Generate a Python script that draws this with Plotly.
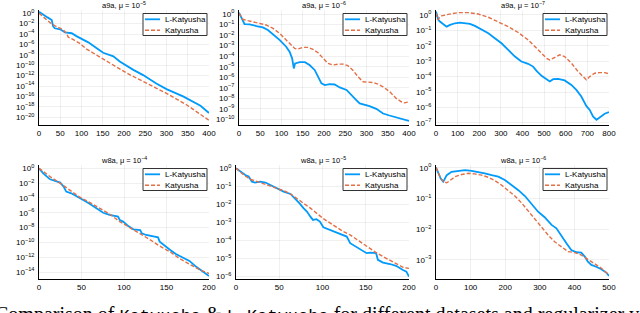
import plotly.graph_objects as go
import numpy as np

# ---------------- data (x = iterations, values as log10 of the plotted quantity) -------------
a9a_5_lk_x = [0, 10, 20, 30, 33, 37, 50, 61, 70, 77, 88, 104, 116, 135, 151, 175, 190, 222, 245, 276, 300, 339, 362, 380, 400]
a9a_5_lk_log = [0.3, -0.3, -0.8, -1.3, -2.5, -2.9, -3.1, -3.7, -3.8, -3.85, -4.4, -5.0, -5.6, -6.7, -7.6, -8.3, -9.3, -10.9, -11.9, -13.5, -14.6, -16.0, -17.0, -17.8, -19.2]
a9a_5_k_x = [0, 10, 26, 37, 57, 63, 69, 81, 96, 112, 135, 167, 206, 261, 300, 347, 400]
a9a_5_k_log = [0.0, -0.7, -1.8, -2.4, -3.2, -3.7, -4.6, -5.1, -5.8, -6.9, -8.0, -9.6, -11.5, -13.8, -15.4, -17.6, -20.6]

a9a_6_lk_x = [0, 5.5, 9, 13, 17, 25, 41, 56, 68, 80, 96, 111, 119, 125, 129, 132, 143, 155, 166, 178, 186, 194, 202, 213, 225, 237, 253, 264, 276, 284, 296, 307, 323, 339, 354, 370, 400]
a9a_6_lk_log = [0.13, -0.25, -0.63, -0.95, -0.95, -0.98, -1.14, -1.27, -1.52, -1.9, -2.47, -3.1, -3.58, -4.2, -5.16, -4.68, -4.56, -4.56, -4.84, -5.3, -5.95, -6.58, -6.74, -6.65, -6.68, -6.96, -7.2, -7.7, -8.16, -8.48, -8.58, -8.73, -8.99, -9.43, -9.62, -9.8, -10.13]
a9a_6_k_x = [0, 5.5, 9, 21, 33, 49, 64, 80, 96, 111, 123, 131, 139, 151, 162, 174, 186, 198, 209, 221, 233, 245, 256, 268, 280, 292, 303, 315, 327, 339, 355, 370, 382, 390, 400]
a9a_6_k_log = [0.06, -0.3, -0.5, -0.63, -0.76, -0.89, -1.04, -1.36, -1.84, -2.47, -2.94, -3.26, -3.32, -3.16, -3.16, -3.35, -3.67, -4.2, -4.68, -4.84, -4.75, -4.75, -4.9, -5.32, -5.95, -6.42, -6.46, -6.49, -6.65, -6.9, -7.37, -8.0, -8.32, -8.42, -8.32]

a9a_7_lk_x = [0, 5, 11, 18, 34, 49, 65, 88, 111, 134, 157, 180, 211, 242, 272, 303, 334, 365, 395, 426, 449, 465, 488, 511, 526, 542, 565, 595, 626, 649, 672, 695, 711, 726, 742, 752, 765, 780, 800]
a9a_7_lk_log = [0.22, -0.11, -0.32, -0.43, -0.58, -0.76, -0.65, -0.54, -0.5, -0.52, -0.58, -0.71, -0.93, -1.19, -1.51, -1.84, -2.27, -2.7, -3.02, -3.17, -3.35, -3.63, -3.95, -4.21, -4.32, -4.17, -4.15, -4.25, -4.54, -4.86, -5.29, -5.9, -6.16, -6.59, -6.8, -6.7, -6.54, -6.41, -6.3]
a9a_7_k_x = [0, 8, 14, 26, 57, 103, 149, 195, 242, 288, 334, 380, 426, 457, 488, 511, 526, 549, 572, 595, 626, 657, 680, 695, 711, 734, 757, 780, 800]
a9a_7_k_log = [0.11, -0.32, -0.22, -0.06, 0.04, 0.15, 0.15, 0.06, -0.15, -0.43, -0.76, -1.14, -1.62, -2.05, -2.48, -2.81, -2.92, -2.74, -2.59, -2.7, -3.13, -3.67, -4.04, -4.21, -4.0, -3.78, -3.74, -3.74, -3.82]

w8a_4_lk_x = [0, 5, 13, 21, 25, 29, 32, 38, 46, 52, 60, 68, 75.5, 83, 89, 93, 95, 99, 105, 111, 119, 121, 126, 134, 140, 142, 148, 154, 161, 169, 177, 185, 193, 200]
w8a_4_lk_log = [0, -0.68, -1.49, -1.8, -1.94, -2.48, -3.15, -3.38, -3.83, -4.28, -4.82, -5.4, -6.0, -6.3, -6.44, -6.53, -6.98, -7.2, -7.8, -8.24, -8.33, -8.78, -9.0, -9.23, -9.32, -9.9, -10.5, -11.0, -11.58, -12.0, -12.5, -13.3, -14.0, -14.55]
w8a_4_k_x = [0, 13, 25, 36, 47, 60, 72, 83, 95, 106.5, 119, 130, 142, 154, 165, 177, 189, 200]
w8a_4_k_log = [0, -1.13, -2.03, -2.93, -3.83, -4.64, -5.4, -6.17, -7.2, -7.97, -8.87, -9.59, -10.5, -11.26, -12.16, -12.9, -13.7, -14.2]

w8a_5_lk_x = [0, 5, 10.7, 14.6, 18.4, 22, 28, 34, 39.5, 47, 55, 63, 68, 74, 78, 82, 86, 89, 93, 97, 101, 107, 112.5, 120, 128, 132, 139, 145, 151, 155, 162, 164, 170, 178, 185, 193, 197, 200]
w8a_5_lk_log = [0, -0.18, -0.37, -0.46, -0.74, -0.79, -0.74, -0.79, -0.92, -1.11, -1.29, -1.42, -1.66, -1.97, -2.21, -2.4, -2.68, -2.86, -2.82, -2.95, -3.27, -3.38, -3.5, -3.63, -3.78, -4.15, -4.37, -4.52, -4.7, -4.67, -4.7, -5.07, -5.22, -5.3, -5.4, -5.63, -5.72, -6.0]
w8a_5_k_x = [0, 9, 16.5, 24, 32, 39.5, 47, 55, 63, 70, 78, 86, 93, 101, 109, 116, 124, 132, 139, 147, 155, 162, 170, 178, 185.5, 193, 200]
w8a_5_k_log = [0, -0.37, -0.61, -0.72, -0.83, -0.98, -1.11, -1.24, -1.42, -1.68, -1.94, -2.21, -2.49, -2.79, -3.04, -3.27, -3.5, -3.69, -3.93, -4.19, -4.43, -4.67, -4.89, -5.11, -5.3, -5.48, -5.54]

w8a_6_lk_x = [0, 7, 13.5, 21, 31, 45, 64, 84, 103, 122, 141, 161, 180, 199, 218, 238, 257, 276, 295, 314, 334, 348, 363, 377, 391, 406, 420, 430, 439, 449, 463, 478, 492, 500]
w8a_6_lk_log = [0.01, -0.18, -0.35, -0.45, -0.24, -0.13, -0.1, -0.08, -0.1, -0.13, -0.18, -0.24, -0.29, -0.4, -0.56, -0.73, -0.92, -1.16, -1.43, -1.61, -1.86, -1.97, -2.24, -2.46, -2.68, -2.75, -2.76, -2.89, -3.06, -3.16, -3.22, -3.3, -3.41, -3.52]
w8a_6_k_x = [0, 11.5, 21, 31, 40, 55, 74, 93, 112, 132, 151, 170, 189, 209, 228, 247, 266, 286, 305, 324, 343, 363, 382, 401, 420, 439, 459, 478, 500]
w8a_6_k_log = [0.01, -0.29, -0.45, -0.49, -0.42, -0.29, -0.22, -0.18, -0.2, -0.24, -0.31, -0.42, -0.56, -0.73, -0.92, -1.14, -1.4, -1.65, -1.92, -2.19, -2.41, -2.59, -2.73, -2.76, -2.84, -2.98, -3.13, -3.27, -3.49]

titles = ["a9a, μ = 10<sup>−5</sup>", "a9a, μ = 10<sup>−6</sup>", "a9a, μ = 10<sup>−7</sup>",
          "w8a, μ = 10<sup>−4</sup>", "w8a, μ = 10<sup>−5</sup>", "w8a, μ = 10<sup>−6</sup>"]
x_ticks = [[0, 50, 100, 150, 200, 250, 300, 350, 400],
           [0, 50, 100, 150, 200, 250, 300, 350, 400],
           [0, 100, 200, 300, 400, 500, 600, 700, 800],
           [0, 50, 100, 150, 200],
           [0, 50, 100, 150, 200],
           [0, 100, 200, 300, 400, 500]]
y_tick_exps = [list(range(0, -21, -2)), list(range(0, -11, -1)), list(range(0, -8, -1)),
               list(range(0, -15, -2)), list(range(0, -7, -1)), list(range(0, -4, -1))]
series_names = ["L-Katyusha", "Katyusha"]
caption = ('Comparison of <span style="font-family:Liberation Mono;font-size:17px">Katyusha</span> &amp; '
           '<span style="font-family:Liberation Mono;font-size:17px">L-Katyusha</span> '
           'for different datasets and regularizer v')

panels = [
    (a9a_5_lk_x, a9a_5_lk_log, a9a_5_k_x, a9a_5_k_log),
    (a9a_6_lk_x, a9a_6_lk_log, a9a_6_k_x, a9a_6_k_log),
    (a9a_7_lk_x, a9a_7_lk_log, a9a_7_k_x, a9a_7_k_log),
    (w8a_4_lk_x, w8a_4_lk_log, w8a_4_k_x, w8a_4_k_log),
    (w8a_5_lk_x, w8a_5_lk_log, w8a_5_k_x, w8a_5_k_log),
    (w8a_6_lk_x, w8a_6_lk_log, w8a_6_k_x, w8a_6_k_log),
]

# ---------------- layout geometry (pixels) ----------------
W, H = 640, 313
x_px = [(39, 209), (239, 409), (436, 609), (39, 209), (236, 409), (436, 609)]
y_px = [(10, 125), (10, 125), (10, 125), (165, 279), (165, 279), (165, 279)]
x_range = [(0, 400), (0, 400), (0, 800), (0, 200), (0, 200), (0, 500)]
y_range = [(-21.5, 0.62), (-10.52, 0.38), (-7.14, 0.32), (-14.94, 0.44), (-6.13, 0.18), (-3.62, 0.09)]

BLUE = "#009AFA"
ORANGE = "#E26F46"
FONT = "Liberation Sans"
DASH = "4px,2px"


def px(x):
    return x / W


def py(y):
    return 1 - y / H


fig = go.Figure()
annotations = []
shapes = []
layout = dict(width=W, height=H, margin=dict(l=0, r=0, t=0, b=0, autoexpand=False),
              paper_bgcolor="white", plot_bgcolor="white", showlegend=False)

for i, (lx, ly, kx, ky) in enumerate(panels):
    n = i + 1
    sfx = "" if n == 1 else str(n)
    fig.add_trace(go.Scatter(x=lx, y=np.power(10.0, ly), mode="lines", name=series_names[0],
                             line=dict(color=BLUE, width=1.8), xaxis="x" + sfx, yaxis="y" + sfx))
    fig.add_trace(go.Scatter(x=kx, y=np.power(10.0, ky), mode="lines", name=series_names[1],
                             line=dict(color=ORANGE, width=1.4, dash=DASH),
                             xaxis="x" + sfx, yaxis="y" + sfx))
    x0, x1 = x_px[i]
    y0, y1 = y_px[i]
    layout["xaxis" + sfx] = dict(domain=[px(x0), px(x1)], anchor="y" + sfx, range=list(x_range[i]),
                                 tickvals=x_ticks[i], ticktext=[str(v) for v in x_ticks[i]],
                                 showline=True, linecolor="black", linewidth=1, mirror=False,
                                 showgrid=True, gridcolor="rgba(0,0,0,0.1)", gridwidth=0.6,
                                 zeroline=False, ticks="", automargin=False,
                                 tickfont=dict(family=FONT, size=8, color="black"))
    yt = y_tick_exps[i]
    layout["yaxis" + sfx] = dict(domain=[py(y1), py(y0)], anchor="x" + sfx, type="log",
                                 range=list(y_range[i]),
                                 tickvals=[10.0 ** e for e in yt],
                                 ticktext=[f"10<sup>{str(e).replace('-', '−')}</sup>" for e in yt],
                                 showline=True, linecolor="black", linewidth=1, mirror=False,
                                 showgrid=True, gridcolor="rgba(0,0,0,0.1)", gridwidth=0.6,
                                 zeroline=False, ticks="", ticklabelstandoff=2, automargin=False,
                                 tickfont=dict(family=FONT, size=8, color="black"))
    # subplot title
    annotations.append(dict(text=titles[i], x=px((x0 + x1) / 2), y=py(y0 - 5),
                            xref="paper", yref="paper", xanchor="center", yanchor="middle",
                            showarrow=False, font=dict(family=FONT, size=7.5, color="black")))
    # legend box (drawn like the original's compact legend)
    R, T = x1 - 2, y0 + 3.5
    shapes.append(dict(type="rect", xref="paper", yref="paper", x0=px(R - 64), x1=px(R),
                       y0=py(T + 22), y1=py(T), line=dict(color="#333333", width=1),
                       fillcolor="white", layer="above"))
    for j, (nm, col, wd, ds) in enumerate([(series_names[0], BLUE, 1.8, "solid"),
                                           (series_names[1], ORANGE, 1.4, DASH)]):
        yy = T + 5.8 + 11 * j
        shapes.append(dict(type="line", xref="paper", yref="paper", x0=px(R - 62), x1=px(R - 47),
                           y0=py(yy), y1=py(yy), line=dict(color=col, width=wd, dash=ds),
                           layer="above"))
        annotations.append(dict(text=nm, x=px(R - 44), y=py(yy), xref="paper", yref="paper",
                                xanchor="left", yanchor="middle", showarrow=False,
                                font=dict(family=FONT, size=8, color="black")))

annotations.append(dict(text=caption, x=px(-7), y=py(301), xref="paper", yref="paper",
                        xanchor="left", yanchor="top", showarrow=False,
                        font=dict(family="Liberation Serif", size=20, color="black")))

layout["annotations"] = annotations
layout["shapes"] = shapes
fig.update_layout(**layout)
fig.write_html("out.html", config={"displayModeBar": False, "staticPlot": True},
               post_script="document.body.style.margin='0px';document.body.style.overflow='hidden';")
